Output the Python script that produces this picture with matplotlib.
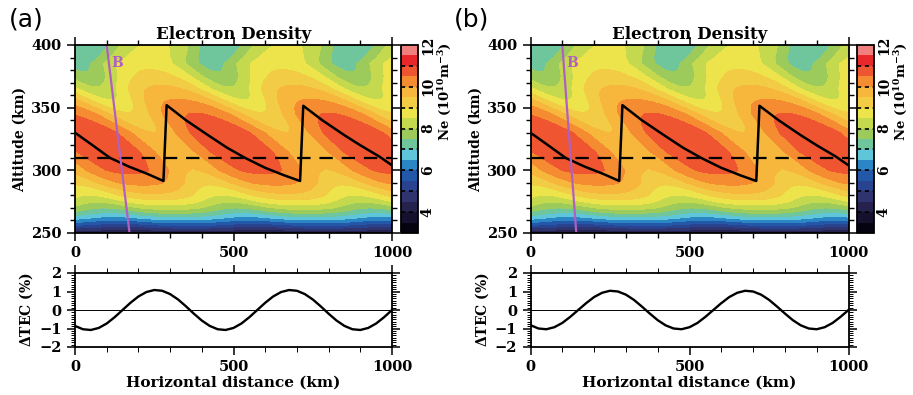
import numpy as np
import matplotlib
matplotlib.use("Agg")
import matplotlib.pyplot as plt
from matplotlib.ticker import MultipleLocator, FixedLocator

plt.rcParams['font.family'] = 'DejaVu Serif'
plt.rcParams['mathtext.fontset'] = 'dejavuserif'

# background Ne profile (10^10 m^-3)
PROFILE_ALT = [250, 254, 258, 262, 266, 270, 275, 280, 290, 300, 315, 330, 345, 360, 375, 390, 400]
PROFILE_NE = [4.0, 4.9, 5.8, 6.6, 7.3, 7.9, 8.5, 9.0, 9.7, 10.15, 10.35, 10.3, 9.9, 9.2, 8.5, 8.05, 7.9]

# relative wave amplitude with altitude
AMP_ALT = [250, 280, 310, 340, 370, 400]
AMP_VAL = [0.03, 0.05, 0.06, 0.07, 0.09, 0.10]

# horizontal position of a wave crest at each altitude (km)
CREST_ALT = [250, 270, 295, 310, 330, 365, 385, 400]
CREST_X = [800, 720, 605, 546, 458, 280, 220, 250]

WAVE_LAMBDA = 420.0    # km, horizontal
WAVE_HARM = 0.15       # second harmonic: broader crests, narrower troughs

NE_LEVELS = np.arange(3.0, 12.01, 0.5)
NE_COLORS = ['#050310', '#14102e', '#25224e', '#2f346e', '#2a4390', '#2358a8',
             '#2b86c6', '#5ec6d8', '#6fc59c', '#9ccb5b', '#c5d94f', '#ece44a',
             '#f3cc45', '#f6b73c', '#f58c32', '#ee5530', '#e8282a', '#f08080']

# solid black sawtooth line
PEAK_X = [0, 50, 110, 170, 230, 279, 289, 350, 420, 480, 536, 600, 660, 710,
          720, 780, 850, 900, 960, 1000]
PEAK_ALT = [330, 321, 310, 303, 297, 291.5, 352, 340, 328, 318, 310, 302, 296, 291.5,
            351.5, 340, 328, 320, 311, 304]
REF_ALT = 310

# magnetic field line B
B_ALT = [400, 250]
B_X_A = [100, 172]
B_X_B = [100, 144]

# delta TEC (%)
TEC_X = list(range(0, 1001, 25))
TEC_A = [-0.86, -1.04, -1.08, -0.97, -0.73, -0.39, 0.0, 0.39, 0.73, 0.97, 1.08,
         1.04, 0.86, 0.57, 0.20, -0.20, -0.57, -0.86, -1.04, -1.08, -0.97,
         -0.73, -0.39, 0.0, 0.39, 0.73, 0.97, 1.08, 1.04, 0.86, 0.57, 0.20,
         -0.20, -0.57, -0.86, -1.04, -1.08, -0.97, -0.73, -0.39, 0.0]
TEC_B = [-0.82, -1.00, -1.04, -0.93, -0.70, -0.37, 0.0, 0.37, 0.70, 0.93, 1.04,
         1.00, 0.83, 0.55, 0.19, -0.19, -0.55, -0.83, -1.00, -1.04, -0.93,
         -0.70, -0.37, 0.0, 0.37, 0.70, 0.93, 1.04, 1.00, 0.83, 0.55, 0.19,
         -0.19, -0.55, -0.83, -1.00, -1.04, -0.93, -0.70, -0.37, 0.0]

W, H = 913, 395
fig = plt.figure(figsize=(W / 100, H / 100), dpi=100)


def box(l, t, r, b):
    return [l / W, 1 - b / H, (r - l) / W, (b - t) / H]


x = np.linspace(0, 1000, 501)
z = np.linspace(250, 400, 301)
X, Z = np.meshgrid(x, z)
ne0 = np.interp(Z, PROFILE_ALT, PROFILE_NE)
amp = np.interp(Z, AMP_ALT, AMP_VAL)
crest = np.interp(Z, CREST_ALT, CREST_X)
phase = 2 * np.pi * (X - crest) / WAVE_LAMBDA
ne = ne0 * (1 + amp * (np.cos(phase) - WAVE_HARM * np.cos(2 * phase)))
ne = np.clip(ne, 3.01, 11.99)

bold = dict(fontweight='bold')


def frame(ax, minor_w=1.0):
    for s in ax.spines.values():
        s.set_linewidth(1.3)
    ax.tick_params(which='both', direction='out', top=True, right=True, labelsize=10.5)
    ax.tick_params(which='major', length=6, width=1.1)
    ax.tick_params(which='minor', length=3.5, width=minor_w)
    for lab in ax.get_xticklabels() + ax.get_yticklabels():
        lab.set_fontweight('bold')


panels = [(75, 392, 401, 418, B_X_A, TEC_A, '(a)', 9),
          (530.5, 848.5, 857, 874, B_X_B, TEC_B, '(b)', 454)]

for left, right, cl, cr, bx, tec, tag, tx in panels:
    ax = fig.add_axes(box(left, 45, right, 233))
    cs = ax.contourf(X, Z, ne, levels=NE_LEVELS, colors=NE_COLORS)
    ax.plot(PEAK_X, PEAK_ALT, color='black', lw=1.8)
    ax.axhline(REF_ALT, color='black', lw=1.6, dashes=(6, 4))
    ax.plot(bx, B_ALT, color='#b060c0', lw=1.6)
    ax.text(bx[0] + 14, 386, 'B', color='#b060c0', fontsize=10, va='center', **bold)
    ax.set_xlim(0, 1000)
    ax.set_ylim(250, 400)
    ax.xaxis.set_major_locator(MultipleLocator(500))
    ax.xaxis.set_minor_locator(MultipleLocator(100))
    ax.yaxis.set_major_locator(MultipleLocator(50))
    ax.yaxis.set_minor_locator(MultipleLocator(10))
    ax.set_ylabel('Altitude (km)', fontsize=10, labelpad=3, **bold)
    ax.set_title('Electron Density', fontsize=12, pad=4, **bold)
    frame(ax)

    cax = fig.add_axes(box(cl, 45, cr, 233))
    cb = fig.colorbar(cs, cax=cax)
    cb.outline.set_linewidth(1.3)
    cax.set_ylim(3, 12)
    cax.yaxis.set_major_locator(FixedLocator([4, 6, 8, 10, 12]))
    cax.yaxis.set_minor_locator(FixedLocator([]))
    cax.tick_params(length=0, pad=2, labelsize=10)
    for lab in cax.get_yticklabels():
        lab.set_rotation(90)
        lab.set_va('center')
        lab.set_fontweight('bold')
    cax.hlines(np.arange(4, 12), 0, 1, transform=cax.get_yaxis_transform(),
               color='black', lw=1.2, linestyles=(0, (2.5, 2.2)))
    fig.text((cr + 27) / W, 1 - 92 / H, r'Ne (10$^{\mathbf{10}}$m$^{\mathbf{-3}}$)',
             rotation=90, ha='center', va='center', fontsize=9.5, **bold)

    ax2 = fig.add_axes(box(left, 273, right, 347))
    ax2.plot(TEC_X, tec, color='black', lw=1.7)
    ax2.axhline(0, color='black', lw=0.7)
    ax2.set_xlim(0, 1000)
    ax2.set_ylim(-2, 2)
    ax2.xaxis.set_major_locator(MultipleLocator(500))
    ax2.xaxis.set_minor_locator(MultipleLocator(100))
    ax2.yaxis.set_major_locator(MultipleLocator(1))
    ax2.yaxis.set_minor_locator(MultipleLocator(0.125))
    ax2.set_ylabel(r'$\mathbf{\Delta}$TEC (%)', fontsize=10, labelpad=3, **bold)
    ax2.set_xlabel('Horizontal distance (km)', fontsize=11, labelpad=1, **bold)
    frame(ax2, minor_w=0.7)
    ax2.tick_params(axis='y', which='minor', length=3)

    fig.text(tx / W, 1 - 20 / H, tag, fontsize=18, family='DejaVu Sans',
             ha='left', va='center')

fig.savefig('out.png', dpi=100)
